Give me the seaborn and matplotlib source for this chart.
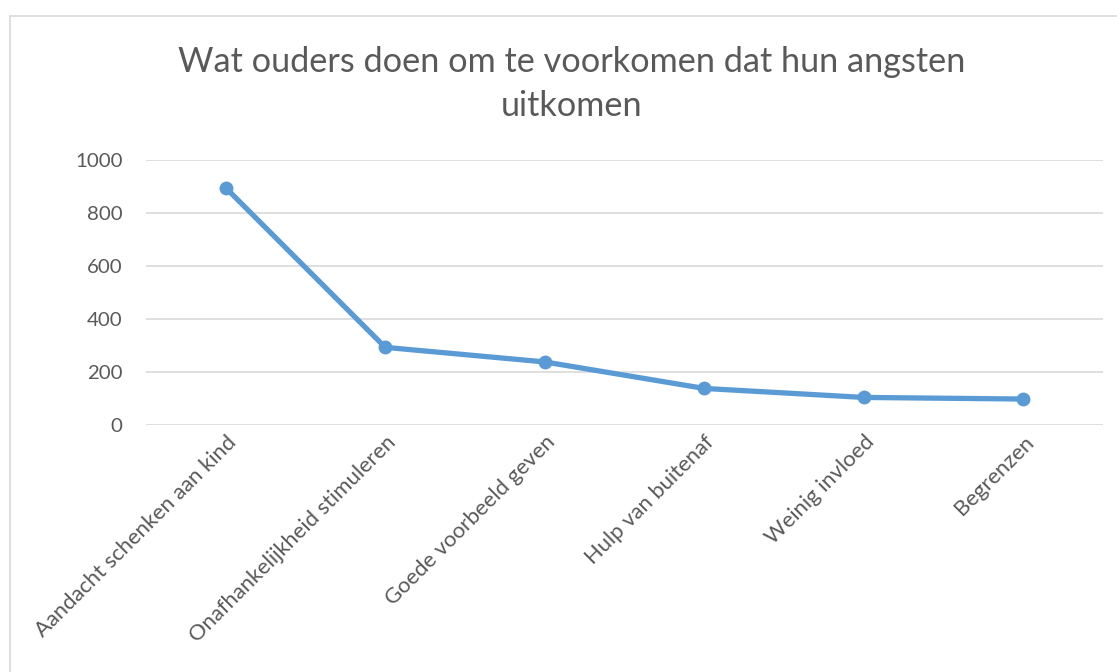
import matplotlib
matplotlib.use("Agg")
import matplotlib.pyplot as plt
import pandas as pd
import seaborn as sns
from matplotlib.patches import Rectangle

# data
categories = [
    "Aandacht schenken aan kind",
    "Onafhankelijkheid stimuleren",
    "Goede voorbeeld geven",
    "Hulp van buitenaf",
    "Weinig invloed",
    "Begrenzen",
]
values = [895, 293, 238, 138, 104, 98]
y_ticks = [0, 200, 400, 600, 800, 1000]
title = "Wat ouders doen om te voorkomen dat hun angsten\nuitkomen"

df = pd.DataFrame({"categorie": categories, "aantal": values})

sns.set_theme(style="white")
plt.rcParams["font.family"] = ["Lato", "DejaVu Sans"]

W, H = 1117, 672
fig = plt.figure(figsize=(W / 100, H / 100), dpi=100)
ax = fig.add_axes([146 / W, 1 - 425 / H, (1103 - 146) / W, (425 - 160) / H])

sns.lineplot(data=df, x="categorie", y="aantal", sort=False, ax=ax,
             color="#5B9BD5", linewidth=3.8, marker="o", markersize=10,
             markeredgewidth=0)

ax.set_xlim(-0.5, len(categories) - 0.5)
ax.set_ylim(0, 1000)
ax.set_yticks(y_ticks)
ax.yaxis.grid(True, color="#D9D9D9", linewidth=1.2)
ax.set_axisbelow(True)
for s in ax.spines.values():
    s.set_visible(False)
ax.set_xlabel("")
ax.set_ylabel("")
ax.tick_params(axis="y", colors="#595959", labelsize=14.7, length=0, pad=17)
ax.tick_params(axis="x", colors="#595959", labelsize=15.8, length=0, pad=5)
plt.setp(ax.get_xticklabels(), rotation=45, ha="right", va="top",
         rotation_mode="anchor")

# chart border like the Excel frame
fig.patches.append(Rectangle((10 / W, -0.05), 1.2, 1.05 - 16 / H,
                             transform=fig.transFigure, fill=False,
                             edgecolor="#D9D9D9", linewidth=1.2))

fig.text(572 / W, 1 - 84 / H, title, ha="center", va="center",
         fontsize=24.7, color="#595959", linespacing=1.45)

fig.savefig("out.png", dpi=100)
